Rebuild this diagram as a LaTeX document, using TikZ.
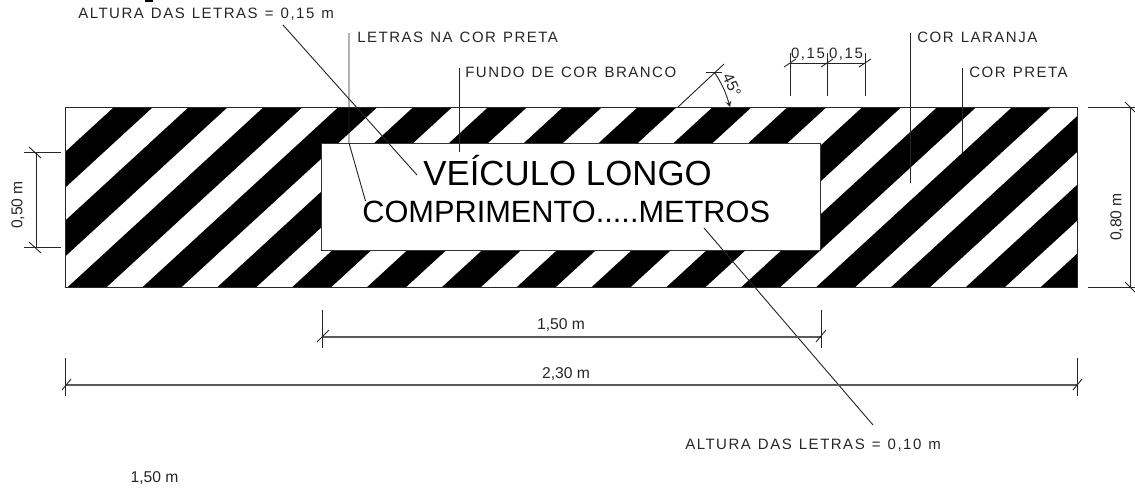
\documentclass[tikz,border=0pt]{standalone}
\usepackage{fontspec}
\setmainfont{Liberation Sans}
\newfontfamily\notefont[LetterSpace=10,WordSpace=1.25]{Liberation Sans}
\newfontfamily\dimfont{Liberation Sans}
\tikzset{
  thinline/.style={line width=0.55pt,black!85},
  dimline/.style={line width=0.85pt,black!65},
  notelabel/.style={inner sep=0pt,anchor=base west,font=\notefont\fontsize{9}{10}\selectfont,black!85},
  steplabel/.style={inner sep=0pt,font=\notefont\fontsize{9}{10}\selectfont,black!85},
  dimlabel/.style={inner sep=0pt,font=\dimfont\fontsize{9.4}{10}\selectfont,black!85},
  signtext/.style={inner sep=0pt,anchor=base west}
}
\begin{document}
\begin{tikzpicture}[x=0.6pt,y=-0.6pt]
		\useasboundingbox (0,0) rectangle (1135,489);
		\fill [black] (145,0) rectangle (153,1.5);
		% STRIPES
		\begin{scope}
		\clip (65,107) rectangle (1077,287.5);
		\foreach \k in {0,...,15} {
			\fill [black] ({114+74.85*\k},107) -- ({153+74.85*\k},107) -- ({153+74.85*\k-197},288) -- ({114+74.85*\k-197},288) -- cycle;
		}
		\end{scope}
		\draw [thinline] (65,107) rectangle (1077,287.5);
		% SIGN
		\node [draw=black!80,line width=0.55pt,fill=white,minimum width=299.4pt,minimum height=64.2pt,inner sep=0pt] (sign) at (570.5,196.5) {};
		\node [signtext,font=\fontsize{20.9}{24}\selectfont] (vehicle) at (423,185.7) {VEÍCULO LONGO};
		\node [signtext,font=\fontsize{18.45}{20}\selectfont] (length) at (362,222) {COMPRIMENTO.....METROS};
		% LEADERS
		\node [notelabel] (highnote) at (78,18) {ALTURA DAS LETRAS = 0,15 m};
		\node [notelabel] (blacknote) at (357,42.5) {LETRAS NA COR PRETA};
		\node [notelabel] (whitenote) at (465,77.5) {FUNDO DE COR BRANCO};
		\node [notelabel] (orangenote) at (917,42.5) {COR LARANJA};
		\node [notelabel] (stripenote) at (969,77.5) {COR PRETA};
		\node [notelabel] (lownote) at (685,449.5) {ALTURA DAS LETRAS = 0,10 m};
		\coordinate (highstart) at (283,25);
		\coordinate (highend) at (417,175);
		\coordinate (blackstart) at (349,33);
		\coordinate (blackbend) at (349,143);
		\coordinate (blackend) at (365.5,201);
		\coordinate (whitestart) at (459.5,68);
		\coordinate (whiteend) at (459.5,152);
		\coordinate (orangestart) at (910,33);
		\coordinate (orangeend) at (910,183);
		\coordinate (stripestart) at (962,68);
		\coordinate (stripeend) at (962,153);
		\coordinate (lowstart) at (704,228);
		\coordinate (lowend) at (873,425);
		\draw [thinline] (highstart) -- (highend);
		\draw [thinline] (blackstart) -- (blackbend) -- (blackend);
		\draw [thinline] (whitestart) -- (whiteend);
		\draw [thinline] (orangestart) -- (orangeend);
		\draw [thinline] (stripestart) -- (stripeend);
		\draw [thinline] (lowstart) -- (lowend);
		% 45 DEGREES
		\coordinate (anglefoot) at (678,107);
		\coordinate (angletop) at (724,64);
		\coordinate (anglestart) at (715,73);
		\coordinate (anglehit) at (730,107);
		\draw [thinline] (anglefoot) -- (angletop);
		\draw [thinline] (706,72.7) -- (722,72.7);
		\draw [thinline,->,>=stealth] (anglestart) to [bend left=8] (anglehit);
		\node [dimlabel,rotate=-65] (anglelabel) at (732,85) {45°};
		% 0,15 TICKS
		\foreach \x/\n in {790/a,827/b,865/c} {
			\coordinate (tick\n) at (\x,96);
			\coordinate (mark\n) at (\x,53);
			\draw [thinline] (tick\n) -- (mark\n);
			\draw [thinline] (\x-6,67) -- (\x+6,59);
		}
		\draw [thinline] (790,63) -- (865,63);
		\node [steplabel] (stepa) at (808,54) {0,15};
		\node [steplabel] (stepb) at (846,54) {0,15};
		% 0,80
		\coordinate (fullup) at (1088,107);
		\coordinate (fulldown) at (1088,287);
		\draw [thinline] (fullup) -- (1135,107);
		\draw [thinline] (fulldown) -- (1135,287);
		\draw [thinline] (1130.5,107) -- (1130.5,287);
		\draw [thinline] (1125,102) -- (1135,112);
		\draw [thinline] (1125,282) -- (1135,292);
		\node [dimlabel,rotate=90] (fullheight) at (1117,217) {0,80 m};
		% 0,50
		\coordinate (bandup) at (24,152.5);
		\coordinate (banddown) at (24,247.5);
		\draw [thinline] (bandup) -- (61,152.5);
		\draw [thinline] (banddown) -- (61,247.5);
		\draw [thinline] (36,152.5) -- (36,247.5);
		\draw [thinline] (29,147) -- (41,158);
		\draw [thinline] (29,242) -- (41,253);
		\node [dimlabel,rotate=90] (bandheight) at (18,205) {0,50 m};
		% 1,50
		\coordinate (signleft) at (322,337);
		\coordinate (signright) at (821,337);
		\draw [dimline] (signleft) -- (signright);
		\draw [thinline] (322,310) -- (322,348);
		\draw [thinline] (821,310) -- (821,348);
		\draw [thinline] (317,342) -- (329,330);
		\draw [thinline] (816,342) -- (826,330);
		\node [dimlabel] (signwidth) at (561,325) {1,50 m};
		% 2,30
		\coordinate (barleft) at (65,385);
		\coordinate (barright) at (1077,385);
		\draw [dimline] (barleft) -- (barright);
		\draw [thinline] (65,358) -- (65,396);
		\draw [thinline] (1077,358) -- (1077,396);
		\draw [thinline] (62,390) -- (71,379);
		\draw [thinline] (1073,390) -- (1082,379);
		\node [dimlabel] (barwidth) at (566,374) {2,30 m};
		\node [dimlabel] (strayvalue) at (154.5,478) {1,50 m};
		\end{tikzpicture}
\end{document}
